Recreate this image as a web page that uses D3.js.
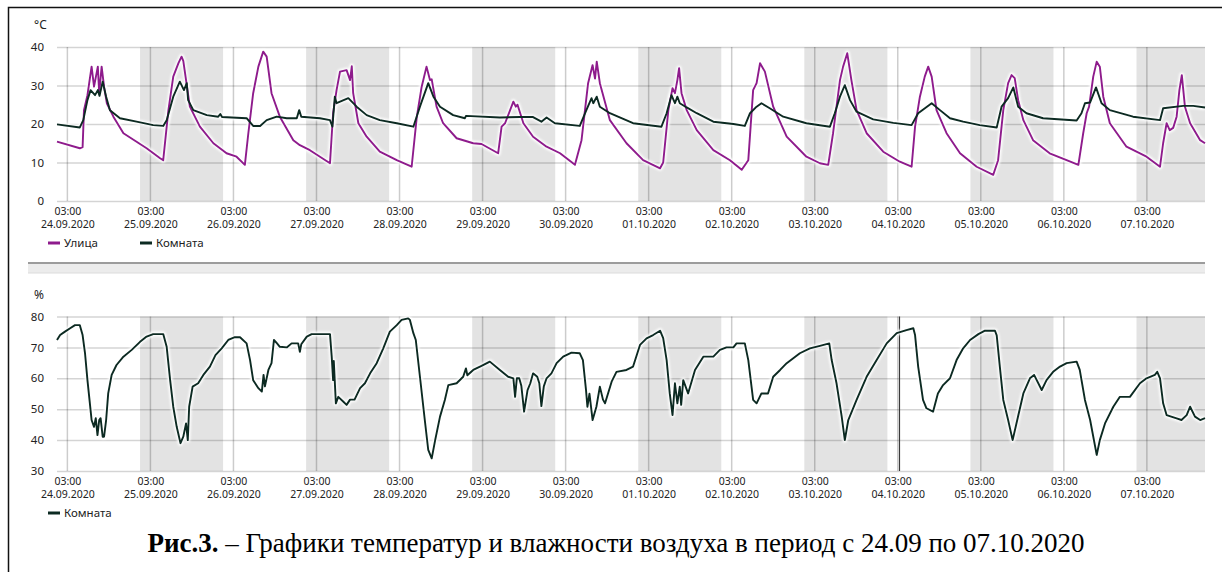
<!DOCTYPE html>
<html lang="ru">
<head>
<meta charset="UTF-8">
<title>Температура и влажность 24.09–07.10.2020</title>
<script src="https://d3js.org/d3.v7.min.js"></script>
<style>
  body { margin: 0; background: #fff; }
  svg { display: block; }
  .tick text { font-family: "Noto Sans", sans-serif; fill: #222; }
  .unit, .legend text { font-family: "Noto Sans", sans-serif; fill: #222; }
  .caption { font-family: "Liberation Serif", "Times New Roman", serif; fill: #000; }
</style>
</head>
<body>
<svg id="chart" width="1222" height="572"></svg>
<script>
// hours counted from 24.09.2020 00:00
const startDate = new Date(2020, 8, 24, 0, 0);
const endHours = 331.8;

const shadedDays = ["25.09.2020", "27.09.2020", "29.09.2020", "01.10.2020", "03.10.2020", "05.10.2020", "07.10.2020"];
const tickDays = ["24.09.2020", "25.09.2020", "26.09.2020", "27.09.2020", "28.09.2020", "29.09.2020", "30.09.2020",
  "01.10.2020", "02.10.2020", "03.10.2020", "04.10.2020", "05.10.2020", "06.10.2020", "07.10.2020"];
const tempTicks = [0, 10, 20, 30, 40];
const humTicks = [30, 40, 50, 60, 70, 80];

// Улица, °C
const tempStreet = [[0,15.4],[6.6,13.7],[7.4,14],[7.8,23.6],[8.8,27.5],[10,34.9],[10.7,29.7],[11.8,34.9],[12.2,28],[12.9,34.9],
  [13.6,29.7],[14.4,25.4],[16.3,21.9],[19.2,17.6],[23,15.4],[25.9,13.7],[29.8,11.1],[30.7,10.6],[32.2,23.6],[33.6,32.3],
  [35.1,35.8],[36,37.5],[36.5,36.4],[37.3,31.4],[38.4,24.5],[41.3,19.3],[45.2,15],[49,12.4],[51.9,11.5],[54.3,9.4],
  [55.3,17.6],[56.7,28],[58.2,34.9],[59.6,38.8],[60.6,37.5],[62,28],[64.4,21.9],[68.3,15.8],[70.2,14.5],[73.1,13.2],
  [76,11.5],[78.9,9.8],[79.8,22.8],[80.8,28.8],[81.8,33.6],[83.7,34],[84.7,31.4],[85.2,35],[85.6,28],[87.1,20.2],
  [89.5,16.7],[93.3,12.8],[98.2,10.6],[102.5,8.9],[104,21.9],[105.4,29.7],[106.8,34.9],[107.8,31.4],[108.3,31.6],[109.7,24.5],
  [111.6,20.2],[115.5,16.3],[120.3,15],[122.7,14.8],[127.5,12.4],[128.5,19.3],[129.5,20.2],[131.9,25.8],[132.6,24.5],[133.1,25],
  [134.8,20.2],[137.6,16.7],[141.5,14.1],[145.4,12.4],[149.7,9.4],[151.6,15.8],[153.5,30.6],[154.8,35.3],[155.5,31.8],[156,36.2],
  [156.9,30.6],[159.8,21],[164.6,15],[169.4,10.6],[174.3,8.5],[175.2,10],[176.7,23.6],[177.9,29.3],[178.6,28],[179.3,31.4],
  [179.8,34.5],[180.5,28],[182,23.6],[184.9,18.4],[189.7,13.2],[194.5,10.6],[197.9,8.1],[199.8,10.6],[201.2,28.8],[202.2,30.6],
  [203.2,35.8],[204.6,33.6],[207,24.5],[210.9,16.7],[216.6,11.5],[220.5,9.8],[222.9,9.4],[224.3,17.6],[226.3,31.4],[227.2,34.9],
  [228.4,38.4],[229.6,31.4],[231.1,23.6],[234,17.6],[238.8,12.8],[243.6,10.2],[247,8.9],[248,19.3],[249.4,27.1],[250.8,32.3],
  [251.8,34.9],[252.8,32.3],[254.2,23.6],[257.1,17.6],[261,12.4],[265.8,8.9],[270.6,6.8],[272,10.6],[273.5,23.6],[274.9,30.6],
  [275.9,32.7],[276.8,31.9],[277.8,26.2],[279.3,21],[282.1,15.8],[286.9,12.4],[291.8,10.6],[295.2,9.4],[296.6,17.6],[297.6,22.8],
  [298.3,24.5],[299.5,32.3],[300.5,36.2],[301.4,34.9],[302.4,27.1],[304.3,20.2],[309.1,14.1],[314.9,11.5],[318.8,8.9],[319.7,15],
  [320.7,20.2],[321.6,18.4],[322.6,19],[323.6,21.9],[324.4,28.8],[325.1,32.7],[326,24.5],[327.5,20.2],[330.4,15.8],[331.8,15]];

// Комната, °C
const tempRoom = [[0,19.9],[6.6,19.1],[7.6,21],[8.8,26.2],[9.7,28.8],[11,27.5],[11.8,28.8],[12.3,27.3],[13.2,31],[14.2,27.1],
  [15.3,23.6],[18.2,21.5],[23,20.6],[27.8,19.7],[30.7,19.5],[31.7,21],[33.6,27.1],[35.5,31],[36.7,28.8],[37.5,30.6],
  [37.9,26.2],[39.4,23.6],[43.3,22.3],[46.6,21.9],[47.2,22.6],[47.7,21.8],[54.8,21.5],[56.7,19.5],[58.7,19.5],[60.6,21],
  [63.5,21.9],[66.4,21.5],[69.3,21.5],[70,23.6],[70.6,21.9],[76,21.5],[78.9,21],[79.6,19.3],[80.3,27.1],[80.8,25.4],
  [84.2,26.7],[86.6,24.5],[89.5,22.3],[93.3,21],[98.2,20.2],[103,19.3],[104.9,24.5],[107.3,30.6],[108.8,27.1],[110.7,24.5],
  [114.5,22.3],[117.9,21.5],[118.2,22.1],[128,21.7],[133.8,21.8],[137.6,21.8],[140,20.6],[141.5,21.7],[143.9,20.2],[151.1,19.5],
  [153,23.6],[154.5,26.7],[155,25.4],[156,27.1],[156.9,24.5],[159.8,22.8],[166.5,20.2],[174.7,19.3],[176.2,22.8],[177.6,27.5],
  [178.6,25.4],[179.3,27.1],[180,25.4],[182,24.3],[184.9,22.8],[189.7,20.6],[195.5,20],[198.8,19.5],[200.3,22.8],[202.2,24.5],
  [203.6,25.4],[206,24.1],[209.9,21.9],[216.6,20.2],[223.4,19.3],[224.8,22.8],[226.3,27.1],[227.7,30.1],[229.2,26.2],[231.1,23.2],
  [235.9,21.2],[241.7,20.3],[247,19.7],[248.9,22.8],[252.8,25.4],[255.2,23.6],[258.1,21.5],[261.9,20.6],[266.7,19.7],[271.6,19.1],
  [273,24.5],[274.9,26.7],[276.4,29.5],[277.8,24.5],[280.2,22.8],[285,21.5],[294.7,20.9],[296.1,22.8],[297.1,25.4],[298.6,25.6],
  [300.3,29.5],[301.9,25.4],[304.3,23.6],[311,21.9],[318.8,21],[319.7,24.1],[325.5,24.7],[328.4,24.7],[331.8,24.3]];

// Комната, %
const humRoom = [[0,72.4],[0.9,74],[2.3,75.1],[3.8,76.2],[5.2,77.2],[6.6,77.2],[7.4,74],[8.1,68.1],[8.8,59.4],[9.5,51.9],
  [10,46.5],[10.7,44.3],[11.2,47.1],[11.7,41.6],[12.2,46.5],[12.6,47.1],[13.2,41.1],[13.6,41.1],[14.2,46.5],[14.8,55.1],
  [15.8,61.1],[17.2,64.3],[19.2,67],[21.6,69.2],[24,71.8],[25.9,73.5],[27.8,74.3],[30.7,74.3],[31.7,70.2],[32.7,59.4],
  [33.6,50.8],[34.6,44.3],[35.7,39],[36.5,41.1],[37.3,45.4],[37.8,40],[38.2,50.8],[39.2,57.3],[40.8,58.4],[42.3,61.1],
  [44.2,63.8],[45.8,67.5],[47.6,69.7],[49.5,72.4],[51.4,73.3],[52.9,73.3],[54.8,71.3],[55.8,65.9],[56.7,59.4],[58.2,56.8],
  [59.2,55.7],[59.7,61.1],[60.1,57.4],[61.1,62.7],[62,64.9],[62.7,72.4],[63.6,71.3],[64.4,70.2],[66.4,70],[67.8,71.3],
  [69.7,71.3],[70.2,68.6],[70.6,71],[72.2,73.5],[73.6,74.3],[78.9,74.3],[79.4,67],[79.8,59.4],[80,65.6],[80.6,51.9],
  [81.3,54],[82.7,52.5],[83.7,51.4],[84.7,53.1],[86,53.1],[87.6,56.8],[89,58.4],[90.5,61.6],[92.4,64.9],[94.3,69.7],
  [96.2,75.1],[98.2,77.2],[99.6,78.9],[101.5,79.4],[102,78.9],[103,74.6],[103.7,72.4],[104.9,60.5],[106.3,46.5],[107.3,36.8],
  [108.3,34.1],[109.3,40],[110.7,47.6],[112.1,53],[113.1,57.8],[115.5,58.4],[117.4,60.5],[118.2,63.2],[118.6,61],[120.3,62.7],
  [122.7,64],[125.1,65.4],[128,62.7],[130.4,60.5],[131.9,60],[132.4,54],[132.9,60],[133.6,60],[134.2,57.6],[135,49.2],
  [136,56.2],[136.8,58.4],[137.6,61.6],[138.8,60.5],[139.4,58.4],[140,51],[140.7,57.4],[141.5,60],[142.9,61.6],[144.4,64.9],
  [146.3,67],[148.7,68.3],[151.1,68.1],[152,65.9],[152.9,56.2],[153.3,50.8],[153.9,55],[154.8,46.5],[155.9,50.8],[156.9,57.3],
  [157.8,53.1],[158.4,51.9],[160.3,58.9],[161.7,62.1],[164.6,62.7],[166.5,63.8],[168.5,70.8],[170.4,72.9],[172.3,74],[174.3,75.4],
  [175.2,73],[176.2,65.9],[177.1,55.1],[177.9,48.1],[178.6,58.4],[179.3,51.9],[180,57.3],[180.4,51.4],[181,59.4],[182.4,55.1],
  [184.4,62.7],[186.8,67],[189.7,67],[191.6,69.2],[193.5,70],[195.5,70],[196.4,71.3],[198.8,71.3],[199.8,65.9],[201.2,53],
  [202.2,51.9],[203.6,55.1],[205.5,55.1],[207,60.5],[209,62.7],[210.9,64.9],[212.8,66.5],[214.7,68.1],[217.6,69.7],[220.5,70.5],
  [223.2,71.3],[223.9,65.9],[225.3,58.4],[226.8,47.6],[227.7,40],[228.7,46.5],[231.1,53],[234,60.5],[236.9,65.9],[239.8,71.3],
  [242.7,74.6],[245.5,75.6],[247.5,76.2],[248,74],[248.9,63.8],[250.3,53],[251.3,50.3],[253.2,49.2],[254.6,55.1],[256.1,57.8],
  [258.1,60],[260,65.9],[261.9,69.7],[263.9,72.4],[266.3,74.3],[268.2,75.4],[271.1,75.4],[271.6,73.9],[272.5,63.8],[273.5,53],
  [274.9,46.5],[276.2,40],[277.3,45.4],[279.3,55.1],[281.2,60],[282.4,61.1],[284.6,56.2],[286,59.4],[287.9,62.1],[289.9,63.8],
  [291.8,64.9],[294.7,65.4],[295.6,62.7],[297.1,53],[298.6,46.5],[300.5,35.2],[301.4,40],[302.9,45.4],[305.3,50.8],[307.2,54],
  [310.1,54],[313,58.4],[314.9,60],[317.3,61.1],[318,62.1],[318.8,60],[319.7,51.9],[320.7,48.1],[323.6,47],[325,46.5],
  [326.5,48.1],[327.5,50.8],[328.9,47.6],[330.4,46.5],[331.8,47.1]];

const cursorHour = 243.5; // marker line in the humidity chart

const colStreet = "#8e1b8c";
const colRoom = "#0c2a22";

const svg = d3.select("#chart");
const parseDay = d3.timeParse("%d.%m.%Y");
const atHour = h => d3.timeMinute.offset(startDate, Math.round(h * 60));

const left = 57, right = 1205;
const x = d3.scaleTime().domain([startDate, atHour(endHours)]).range([left, right]);

// frame (left + top edges visible)
svg.append("path").attr("d", "M8.5,572 V7.5 H1222").attr("fill", "none").attr("stroke", "#111").attr("stroke-width", 1.5);

// halo filter
const defs = svg.append("defs");
defs.append("filter").attr("id", "soft").append("feGaussianBlur").attr("stdDeviation", 0.8);

const tickTimes = tickDays.map(d => d3.timeHour.offset(parseDay(d), 3));
const fmtTime = d3.timeFormat("%H:%M");
const fmtDate = d3.timeFormat("%d.%m.%Y");

function panel(cfg) {
  const y = d3.scaleLinear().domain(cfg.domain).range([cfg.bottom, cfg.top]);
  const g = svg.append("g");

  // shaded days
  g.selectAll("rect.band").data(shadedDays).join("rect")
    .attr("class", "band")
    .attr("x", d => x(parseDay(d)))
    .attr("width", d => Math.min(x(d3.timeDay.offset(parseDay(d), 1)), right) - x(parseDay(d)))
    .attr("y", cfg.top).attr("height", cfg.bottom - cfg.top)
    .attr("fill", "#e3e3e3");

  // horizontal grid
  g.append("g")
    .attr("transform", `translate(${left},0)`)
    .call(d3.axisLeft(y).tickValues(cfg.ticks).tickSize(-(right - left)).tickFormat(d3.format("d")).tickPadding(13))
    .call(a => a.select(".domain").remove())
    .call(a => a.selectAll(".tick line").attr("stroke", "rgba(0,0,0,0.17)").attr("stroke-width", 1.5))
    .call(a => a.selectAll(".tick text").attr("font-size", 11.5));

  // vertical grid
  g.append("g").selectAll("line").data(tickTimes).join("line")
    .attr("x1", d => x(d)).attr("x2", d => x(d))
    .attr("y1", cfg.top).attr("y2", cfg.bottom)
    .attr("stroke", "rgba(0,0,0,0.2)").attr("stroke-width", 1.5);

  // time axis labels
  const ax = g.append("g")
    .attr("transform", `translate(0,${cfg.bottom})`)
    .call(d3.axisBottom(x).tickValues(tickTimes).tickSize(0).tickPadding(9).tickFormat(fmtTime));
  ax.select(".domain").remove();
  ax.selectAll(".tick text").attr("font-size", 10.5).each(function(d) {
    const t = d3.select(this);
    t.text(null);
    t.append("tspan").attr("x", 0).attr("dy", "0.71em").text(fmtTime(d));
    t.append("tspan").attr("x", 0).attr("dy", "1.15em").text(fmtDate(d));
  });
  ax.selectAll(".tick text").attr("y", 7).attr("dy", null);

  // unit label
  g.append("text").attr("class", "unit")
    .attr("x", 34).attr("y", cfg.top - 18)
    .attr("font-size", 12).text(cfg.unit);

  if (cfg.cursor != null) {
    g.append("line")
      .attr("x1", x(atHour(cfg.cursor))).attr("x2", x(atHour(cfg.cursor)))
      .attr("y1", cfg.top).attr("y2", cfg.bottom)
      .attr("stroke", "#3a3a3a").attr("stroke-width", 1.2);
  }

  const line = d3.line().x(d => x(atHour(d[0]))).y(d => y(d[1]));
  cfg.series.forEach(s => {
    g.append("path").datum(s.values)
      .attr("d", line).attr("fill", "none")
      .attr("stroke", "#fff").attr("stroke-width", 5).attr("stroke-linejoin", "round")
      .attr("filter", "url(#soft)");
  });
  cfg.series.forEach(s => {
    g.append("path").datum(s.values)
      .attr("d", line).attr("fill", "none")
      .attr("stroke", s.color).attr("stroke-width", 1.9).attr("stroke-linejoin", "round");
  });

  // legend
  const lg = g.append("g").attr("class", "legend");
  let lx = 48;
  cfg.series.forEach(s => {
    lg.append("line").attr("x1", lx).attr("x2", lx + 12)
      .attr("y1", cfg.legendY).attr("y2", cfg.legendY)
      .attr("stroke", s.color).attr("stroke-width", 3);
    lg.append("text").attr("x", lx + 16).attr("y", cfg.legendY + 4)
      .attr("font-size", 11.5).text(s.name);
    lx += 92;
  });
}

panel({
  domain: [0, 40], ticks: tempTicks, top: 47, bottom: 201, unit: "°C", legendY: 243,
  series: [
    { name: "Улица", color: colStreet, values: tempStreet },
    { name: "Комната", color: colRoom, values: tempRoom }
  ]
});

panel({
  domain: [30, 80], ticks: humTicks, top: 316.5, bottom: 471, unit: "%", legendY: 513, cursor: cursorHour,
  series: [
    { name: "Комната", color: colRoom, values: humRoom }
  ]
});

// separator between the two panels
svg.append("rect").attr("x", 28).attr("y", 264).attr("width", right - 28).attr("height", 9).attr("fill", "#ececec");
svg.append("line").attr("x1", 28).attr("x2", right).attr("y1", 263).attr("y2", 263).attr("stroke", "#9c9c9c").attr("stroke-width", 2);
svg.append("line").attr("x1", 28).attr("x2", right).attr("y1", 273).attr("y2", 273).attr("stroke", "#dcdcdc").attr("stroke-width", 1);

// caption
const cap = svg.append("text").attr("class", "caption")
  .attr("x", 616).attr("y", 552).attr("text-anchor", "middle").attr("font-size", 27);
cap.append("tspan").attr("font-weight", "bold").text("Рис.3.");
cap.append("tspan").text(" – Графики температур и влажности воздуха в период с 24.09 по 07.10.2020");
</script>
</body>
</html>
